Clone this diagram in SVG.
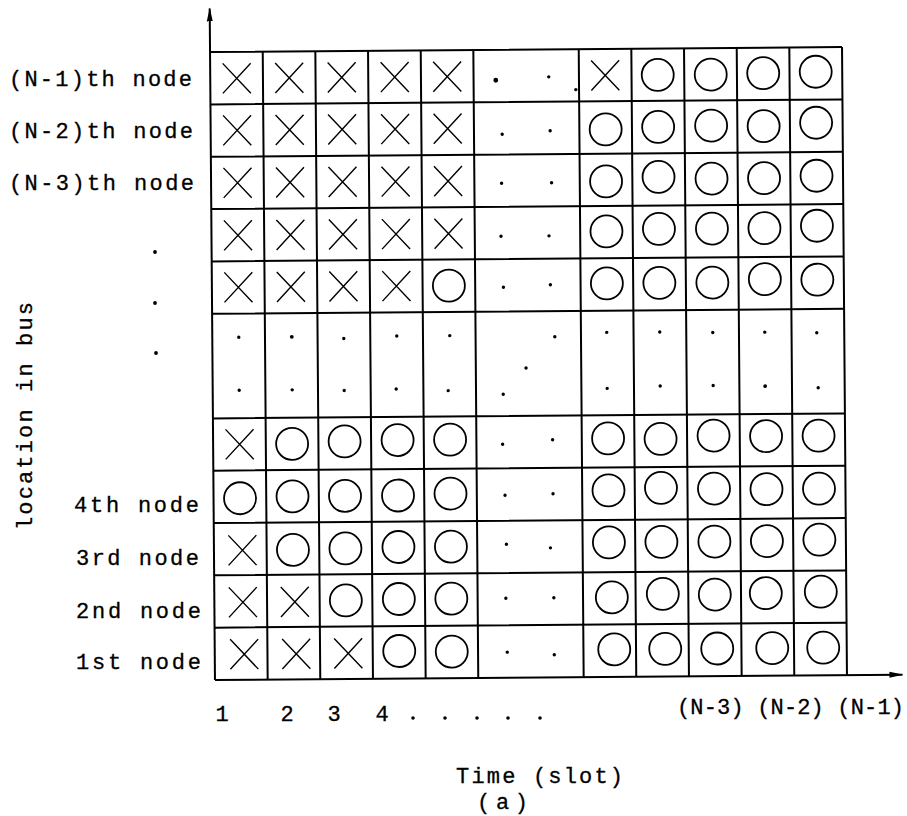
<svg xmlns="http://www.w3.org/2000/svg" xmlns:xlink="http://www.w3.org/1999/xlink" width="907" height="816" viewBox="0 0 907 816">
<style>
.bg{fill:#fff}
.gl{stroke:#000;stroke-width:2;fill:none}
.ax{stroke:#000;stroke-width:2;fill:none}
.xm{stroke:#000;stroke-width:1.4;fill:none}
.om{stroke:#000;stroke-width:1.8;fill:none}
.dt{fill:#000}
.lab{font-family:"Liberation Mono","DejaVu Sans Mono",monospace;font-size:22px;fill:#000;stroke:#000;stroke-width:0.3}
</style>
<defs>
<marker id="arr" markerWidth="14" markerHeight="8" refX="13" refY="3.5" orient="auto" markerUnits="userSpaceOnUse">
<path d="M0,0.5 L14,3.5 L0,6.5 z" fill="#000"/>
</marker>
<path id="xm" class="xm" d="M-14,-15 L14,15 M14,-15 L-14,15"/>
<circle id="om" class="om" r="16"/>
</defs>
<rect class="bg" x="0" y="0" width="907" height="816"/>

<g id="chart" transform="rotate(-0.45 528 364)">
<g id="grid" class="gl">
<path d="M212.5,49.6 H844.5 M212.5,101.9 H844.5 M212.5,154.3 H844.5 M212.5,206.6 H844.5 M212.5,258.9 H844.5 M212.5,311.3 H844.5 M212.5,415.9 H844.5 M212.5,468.2 H844.5 M212.5,520.6 H844.5 M212.5,572.9 H844.5 M212.5,625.2 H844.5"/>
<path d="M265.2,49.6 V677.6 M317.8,49.6 V677.6 M370.5,49.6 V677.6 M423.2,49.6 V677.6 M475.8,49.6 V677.6 M581.2,49.6 V677.6 M633.8,49.6 V677.6 M686.5,49.6 V677.6 M739.2,49.6 V677.6 M791.8,49.6 V677.6 M844.5,49.6 V677.6"/>
</g>
<g id="connectors">
<line class="ax" x1="212.5" y1="677.6" x2="212.5" y2="6" marker-end="url(#arr)"/>
<line class="ax" x1="212.5" y1="677.6" x2="900" y2="677.6" marker-end="url(#arr)"/>
</g>

<g id="row-n1">
<use href="#xm" x="239" y="76"/><use href="#xm" x="291.5" y="76"/><use href="#xm" x="344" y="76"/><use href="#xm" x="397" y="76"/><use href="#xm" x="449.5" y="76"/>
<circle class="dt" cx="498" cy="80" r="2.4"/><circle class="dt" cx="551" cy="77" r="1.7"/><circle class="dt" cx="578" cy="90" r="1.7"/>
<use href="#xm" x="607.5" y="76"/><use href="#om" x="660" y="76"/><use href="#om" x="713" y="76"/><use href="#om" x="765.5" y="75"/><use href="#om" x="818" y="74"/>
</g>
<g id="row-n2">
<use href="#xm" x="239" y="128"/><use href="#xm" x="291.5" y="128"/><use href="#xm" x="344" y="128"/><use href="#xm" x="397" y="128"/><use href="#xm" x="449.5" y="128"/>
<circle class="dt" cx="504" cy="134" r="1.7"/><circle class="dt" cx="552" cy="131" r="1.7"/>
<use href="#om" x="607.5" y="130"/><use href="#om" x="660" y="128"/><use href="#om" x="713" y="127"/><use href="#om" x="765.5" y="128"/><use href="#om" x="818" y="125"/>
</g>
<g id="row-n3">
<use href="#xm" x="239" y="180.5"/><use href="#xm" x="291.5" y="180.5"/><use href="#xm" x="344" y="180.5"/><use href="#xm" x="397" y="180.5"/><use href="#xm" x="449.5" y="180.5"/>
<circle class="dt" cx="503" cy="183" r="1.7"/><circle class="dt" cx="553" cy="183" r="1.7"/>
<use href="#om" x="607.5" y="182"/><use href="#om" x="660" y="178"/><use href="#om" x="713" y="180"/><use href="#om" x="765.5" y="180"/><use href="#om" x="818" y="178"/>
</g>
<g id="row-4">
<use href="#xm" x="239" y="233"/><use href="#xm" x="291.5" y="233"/><use href="#xm" x="344" y="233"/><use href="#xm" x="397" y="233"/><use href="#xm" x="449.5" y="233"/>
<circle class="dt" cx="502" cy="236" r="1.7"/><circle class="dt" cx="550" cy="236" r="1.7"/>
<use href="#om" x="607.5" y="232"/><use href="#om" x="660" y="230"/><use href="#om" x="713" y="230"/><use href="#om" x="765.5" y="230"/><use href="#om" x="818" y="228"/>
</g>
<g id="row-5">
<use href="#xm" x="239" y="285"/><use href="#xm" x="291.5" y="285"/><use href="#xm" x="344" y="285"/><use href="#xm" x="397" y="285"/><use href="#om" x="449.5" y="285"/>
<circle class="dt" cx="504" cy="287" r="1.7"/><circle class="dt" cx="551" cy="285" r="1.7"/>
<use href="#om" x="607.5" y="284"/><use href="#om" x="660" y="284"/><use href="#om" x="713" y="284"/><use href="#om" x="765.5" y="281"/><use href="#om" x="818" y="282"/>
</g>
<g id="row-dots">
<circle class="dt" cx="239" cy="335" r="1.7"/><circle class="dt" cx="239" cy="388" r="1.7"/>
<circle class="dt" cx="292" cy="335" r="1.9"/><circle class="dt" cx="292" cy="388" r="1.7"/>
<circle class="dt" cx="344" cy="337" r="1.7"/><circle class="dt" cx="344" cy="389" r="1.7"/>
<circle class="dt" cx="397" cy="335" r="1.7"/><circle class="dt" cx="396" cy="388" r="1.7"/>
<circle class="dt" cx="450" cy="335" r="1.7"/><circle class="dt" cx="448" cy="390" r="1.7"/>
<circle class="dt" cx="555" cy="337" r="1.7"/><circle class="dt" cx="526" cy="368" r="1.7"/><circle class="dt" cx="503" cy="394" r="1.7"/>
<circle class="dt" cx="607" cy="333" r="1.7"/><circle class="dt" cx="607" cy="389" r="1.7"/>
<circle class="dt" cx="660" cy="333" r="1.7"/><circle class="dt" cx="660" cy="387" r="1.7"/>
<circle class="dt" cx="713" cy="334" r="1.7"/><circle class="dt" cx="713" cy="387" r="1.7"/>
<circle class="dt" cx="765" cy="334" r="1.7"/><circle class="dt" cx="765" cy="388" r="1.9"/>
<circle class="dt" cx="817" cy="335" r="1.7"/><circle class="dt" cx="818" cy="390" r="1.7"/>
</g>
<g id="row-7">
<use href="#xm" x="239" y="442"/><use href="#om" x="291.5" y="442"/><use href="#om" x="344" y="440"/><use href="#om" x="397" y="439"/><use href="#om" x="449.5" y="439"/>
<circle class="dt" cx="502" cy="444" r="1.7"/><circle class="dt" cx="552" cy="440" r="1.7"/>
<use href="#om" x="607.5" y="439"/><use href="#om" x="660" y="440"/><use href="#om" x="713" y="437"/><use href="#om" x="765.5" y="438"/><use href="#om" x="818" y="438"/>
</g>
<g id="row-4th">
<use href="#om" x="239" y="496"/><use href="#om" x="291.5" y="494.5"/><use href="#om" x="344" y="494.5"/><use href="#om" x="397" y="494.5"/><use href="#om" x="449.5" y="493"/>
<circle class="dt" cx="504" cy="495" r="1.7"/><circle class="dt" cx="552" cy="494" r="1.7"/>
<use href="#om" x="607.5" y="491"/><use href="#om" x="660" y="489"/><use href="#om" x="713" y="490"/><use href="#om" x="765.5" y="491"/><use href="#om" x="818" y="491"/>
</g>
<g id="row-3rd">
<use href="#xm" x="241" y="548"/><use href="#om" x="291.5" y="548"/><use href="#om" x="344" y="547"/><use href="#om" x="397" y="546"/><use href="#om" x="449.5" y="546"/>
<circle class="dt" cx="505" cy="544" r="1.7"/><circle class="dt" cx="549" cy="548" r="1.7"/>
<use href="#om" x="607.5" y="543"/><use href="#om" x="660" y="543"/><use href="#om" x="713" y="543"/><use href="#om" x="765.5" y="543"/><use href="#om" x="818" y="542"/>
</g>
<g id="row-2nd">
<use href="#xm" x="241" y="600"/><use href="#xm" x="293" y="600"/><use href="#om" x="344" y="599"/><use href="#om" x="397" y="598"/><use href="#om" x="449.5" y="598"/>
<circle class="dt" cx="504" cy="598" r="1.7"/><circle class="dt" cx="552" cy="598" r="1.7"/>
<use href="#om" x="610" y="598"/><use href="#om" x="661" y="595"/><use href="#om" x="713" y="596"/><use href="#om" x="764" y="595"/><use href="#om" x="819" y="594"/>
</g>
<g id="row-1st">
<use href="#xm" x="242" y="652"/><use href="#xm" x="294" y="652"/><use href="#xm" x="346" y="652"/><use href="#om" x="397" y="650"/><use href="#om" x="449.5" y="651"/>
<circle class="dt" cx="505" cy="652" r="1.7"/><circle class="dt" cx="552" cy="655" r="1.7"/>
<use href="#om" x="612" y="650"/><use href="#om" x="663" y="650"/><use href="#om" x="715" y="650"/><use href="#om" x="770" y="650"/><use href="#om" x="821" y="650"/>
</g>
</g>

<g id="row-labels">
<text class="lab" x="9" y="86" textLength="183" lengthAdjust="spacing">(N-1)th node</text>
<text class="lab" x="9" y="138" textLength="184" lengthAdjust="spacing">(N-2)th node</text>
<text class="lab" x="9" y="190" textLength="185" lengthAdjust="spacing">(N-3)th node</text>
<text class="lab" x="74" y="512" textLength="125" lengthAdjust="spacing">4th node</text>
<text class="lab" x="76" y="565" textLength="123" lengthAdjust="spacing">3rd node</text>
<text class="lab" x="76" y="618" textLength="125" lengthAdjust="spacing">2nd node</text>
<text class="lab" x="76" y="669" textLength="125" lengthAdjust="spacing">1st node</text>
</g>
<g id="ellipsis">
<circle class="dt" cx="155" cy="252" r="1.9"/>
<circle class="dt" cx="155" cy="303" r="1.9"/>
<circle class="dt" cx="156" cy="353" r="1.9"/>
</g>
<g id="y-title">
<text class="lab" transform="translate(32,416) rotate(-90)" x="0" y="0" text-anchor="middle" textLength="228" lengthAdjust="spacing">location in bus</text>
</g>
<g id="x-ticks">
<text class="lab" x="222" y="721" text-anchor="middle">1</text>
<text class="lab" x="287" y="721" text-anchor="middle">2</text>
<text class="lab" x="334" y="721" text-anchor="middle">3</text>
<text class="lab" x="382" y="721" text-anchor="middle">4</text>
<circle class="dt" cx="413" cy="718" r="1.8"/>
<circle class="dt" cx="445" cy="718" r="1.8"/>
<circle class="dt" cx="477" cy="718" r="1.8"/>
<circle class="dt" cx="508" cy="718" r="1.8"/>
<circle class="dt" cx="540" cy="718" r="1.8"/>
<text class="lab" x="677" y="714" textLength="227" lengthAdjust="spacing">(N-3) (N-2) (N-1)</text>
</g>
<g id="x-title">
<text class="lab" x="456" y="783" textLength="167" lengthAdjust="spacing">Time (slot)</text>
<text class="lab" x="477" y="809" textLength="51" lengthAdjust="spacing">(a)</text>
</g>
</svg>
